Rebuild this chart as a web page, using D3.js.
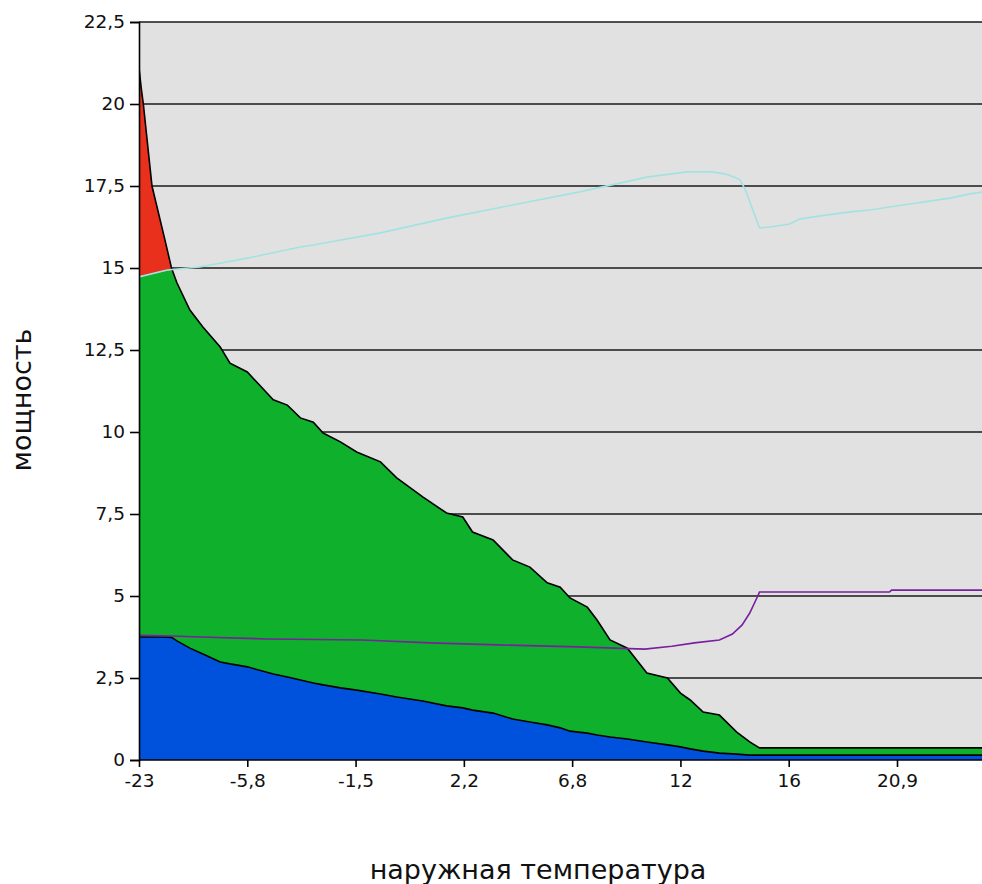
<!DOCTYPE html>
<html>
<head>
<meta charset="utf-8">
<script src="https://cdn.jsdelivr.net/npm/d3@7"></script>
<style>
  body { margin: 0; background: #fff; }
  svg { display: block; }
  text { font-family: "DejaVu Sans", Tahoma, sans-serif; }
</style>
</head>
<body>
<svg id="chart" width="982" height="884"></svg>
<script>
// x is the sample position along the category axis (10 samples per labelled tick)
const xTickLabels = ['-23', '-5,8', '-1,5', '2,2', '6,8', '12', '16', '20,9'];
const yTicks = [0, 2.5, 5, 7.5, 10, 12.5, 15, 17.5, 20, 22.5];

// stacked areas: blue (bottom), green, red (top)
const areaX = [0, 0.2, 0.4, 1.2, 2.4, 3.0, 3.5, 4.7, 5.9, 7.5, 8.4, 10, 12.4, 13.7, 14.9, 16.1, 17, 18.6, 20.1,
  22.3, 23.8, 26.2, 28.4, 29.9, 30.8, 32.7, 34.5, 36.1, 37.7, 38.9, 39.8, 41.4, 42.3, 43.5, 45.1, 46.9, 48.8,
  50, 50.9, 52.1, 53.6, 55.2, 56.4, 57.3, 60, 65, 70, 75, 78];
const blueValues = [3.75, 3.75, 3.75, 3.75, 3.75, 3.74, 3.63, 3.41, 3.23, 2.99, 2.93, 2.84, 2.62, 2.53, 2.44, 2.35,
  2.29, 2.2, 2.13, 2.01, 1.92, 1.8, 1.65, 1.59, 1.52, 1.43, 1.25, 1.16, 1.07, 0.98, 0.88, 0.82, 0.76, 0.7, 0.64,
  0.55, 0.46, 0.4, 0.34, 0.27, 0.21, 0.18, 0.15, 0.15, 0.15, 0.15, 0.15, 0.15, 0.15];
const greenValues = [11.0, 11.01, 11.02, 11.07, 11.15, 11.21, 10.92, 10.31, 9.97, 9.6, 9.17, 8.99, 8.36, 8.29, 7.99,
  7.95, 7.68, 7.5, 7.26, 7.08, 6.68, 6.22, 5.88, 5.82, 5.43, 5.28, 4.85, 4.72, 4.33, 4.29, 4.06, 3.84, 3.51, 2.96,
  2.77, 2.1, 2.04, 1.64, 1.49, 1.19, 1.16, 0.67, 0.4, 0.22, 0.22, 0.22, 0.22, 0.22, 0.22];
const redValues = [6.35, 5.74, 5.23, 2.68, 0.95, 0.05, 0, 0, 0, 0, 0, 0, 0, 0, 0, 0, 0, 0, 0, 0, 0, 0, 0, 0, 0,
  0, 0, 0, 0, 0, 0, 0, 0, 0, 0, 0, 0, 0, 0, 0, 0, 0, 0, 0, 0, 0, 0, 0, 0];

// purple line
const purpleX = [0, 3, 5.7, 11.8, 20.6, 26.9, 33.1, 40.5, 46.7, 49.2, 51.3, 53.6, 54.8, 55.7, 56.4, 57.1, 57.3,
  69.3, 69.5, 78];
const purpleValues = [3.8, 3.78, 3.75, 3.69, 3.66, 3.57, 3.51, 3.45, 3.38, 3.47, 3.57, 3.66, 3.84, 4.12, 4.48,
  4.97, 5.12, 5.12, 5.18, 5.18];

// cyan line
const cyanX = [0, 2.6, 5.6, 10, 14.9, 16.1, 22.3, 28.4, 34.5, 40.7, 46.9, 50.6, 52.9, 54.1, 55, 55.5, 56, 57.3,
  58.3, 60.1, 61, 62.9, 65.7, 67.5, 69.3, 71.2, 73, 74.9, 76.7, 78];
const cyanValues = [14.73, 14.94, 15.03, 15.3, 15.64, 15.7, 16.07, 16.52, 16.92, 17.32, 17.77, 17.93, 17.93, 17.87,
  17.77, 17.68, 17.38, 16.22, 16.25, 16.34, 16.49, 16.59, 16.71, 16.77, 16.86, 16.95, 17.04, 17.13, 17.26, 17.32];

const margin = { left: 139, top: 22, right: 982, bottom: 760 };
const svg = d3.select('#chart');

const xScale = d3.scaleLinear().domain([0, 70]).range([margin.left, 897]);
const yScale = d3.scaleLinear().domain([0, 22.5]).range([margin.bottom, margin.top]);

// Plot background
svg.append('rect')
  .attr('x', margin.left).attr('y', margin.top)
  .attr('width', margin.right - margin.left).attr('height', margin.bottom - margin.top)
  .attr('fill', '#e1e1e1');

svg.append('clipPath').attr('id', 'plot-clip')
  .append('rect')
  .attr('x', margin.left).attr('y', 0)
  .attr('width', margin.right - margin.left).attr('height', margin.bottom + 1);

// Horizontal grid lines
svg.append('g')
  .selectAll('line')
  .data(yTicks.filter((d) => d > 0))
  .join('line')
  .attr('x1', margin.left).attr('x2', margin.right)
  .attr('y1', (d) => yScale(d)).attr('y2', (d) => yScale(d))
  .attr('stroke', '#1a1a1a')
  .attr('stroke-width', 1.6);

// Stacked areas
const rows = areaX.map((x, i) => ({ x, blue: blueValues[i], green: greenValues[i], red: redValues[i] }));
const stack = d3.stack().keys(['blue', 'green', 'red'])(rows);
const colors = { blue: '#0052dc', green: '#0eb02c', red: '#e8301c' };

const plot = svg.append('g').attr('clip-path', 'url(#plot-clip)');

const area = d3.area()
  .x((d) => xScale(d.data.x))
  .y0((d) => yScale(d[0]))
  .y1((d) => yScale(d[1]));

plot.selectAll('path.layer')
  .data(stack)
  .join('path')
  .attr('class', 'layer')
  .attr('d', area)
  .attr('fill', (d) => colors[d.key]);

// black outlines: top of blue, top of total
const edge = d3.line()
  .x((d) => xScale(d.data.x))
  .y((d) => yScale(d[1]));
[stack[0], stack[2]].forEach((layer) => {
  plot.append('path')
    .attr('d', edge(layer))
    .attr('fill', 'none')
    .attr('stroke', '#000')
    .attr('stroke-width', 1.6);
});

// purple and cyan lines
const line = d3.line()
  .x((d) => xScale(d[0]))
  .y((d) => yScale(d[1]));

plot.append('path')
  .attr('d', line(purpleX.map((x, i) => [x, purpleValues[i]])))
  .attr('fill', 'none')
  .attr('stroke', '#7a1f9e')
  .attr('stroke-width', 1.6);

plot.append('path')
  .attr('d', line(cyanX.map((x, i) => [x, cyanValues[i]])))
  .attr('fill', 'none')
  .attr('stroke', '#a4e2e2')
  .attr('stroke-width', 1.6);

// Y axis
const yAxis = d3.axisLeft(yScale)
  .tickValues(yTicks)
  .tickSize(9)
  .tickPadding(5)
  .tickFormat((d) => String(d).replace('.', ','));
const yAxisGroup = svg.append('g')
  .attr('transform', `translate(${margin.left},0)`)
  .call(yAxis);
yAxisGroup.select('.domain').attr('stroke', '#000').attr('stroke-width', 1.6);
yAxisGroup.selectAll('line').attr('stroke', '#000').attr('stroke-width', 1.6);
yAxisGroup.selectAll('text')
  .attr('fill', '#111')
  .attr('font-size', '18.5px')
  .style('font-family', '"DejaVu Sans", Tahoma, sans-serif');

// X axis (category labels every 10 samples)
const xAxis = d3.axisBottom(xScale)
  .tickValues(xTickLabels.map((d, i) => i * 10))
  .tickSize(7)
  .tickPadding(7)
  .tickFormat((d, i) => xTickLabels[i]);
const xAxisGroup = svg.append('g')
  .attr('transform', `translate(0,${margin.bottom})`)
  .call(xAxis);
xAxisGroup.select('.domain')
  .attr('d', `M${margin.left},0H${margin.right}`)
  .attr('stroke', '#000').attr('stroke-width', 1.6);
xAxisGroup.selectAll('line').attr('stroke', '#000').attr('stroke-width', 1.6);
xAxisGroup.selectAll('text')
  .attr('fill', '#111')
  .attr('font-size', '18.5px')
  .style('font-family', '"DejaVu Sans", Tahoma, sans-serif');

// Axis titles
svg.append('text')
  .attr('x', 538).attr('y', 879)
  .attr('text-anchor', 'middle')
  .attr('font-size', '27px')
  .attr('fill', '#111')
  .text('наружная температура');

svg.append('text')
  .attr('transform', 'translate(31,400) rotate(-90)')
  .attr('text-anchor', 'middle')
  .attr('font-size', '27px')
  .attr('fill', '#111')
  .text('мощность');
</script>
</body>
</html>
